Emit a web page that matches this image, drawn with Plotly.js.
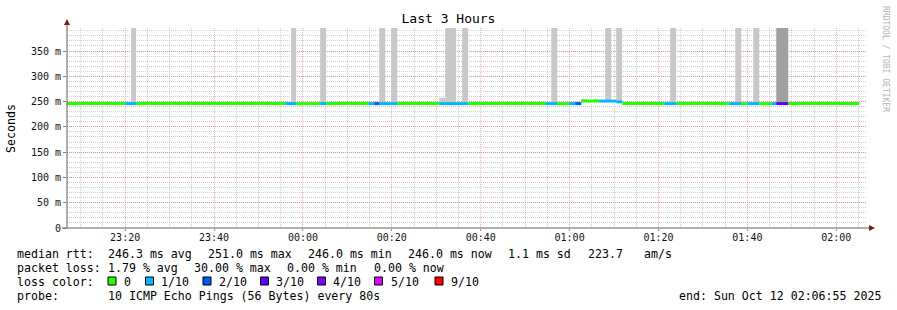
<!DOCTYPE html>
<html><head><meta charset="utf-8">
<script src="https://cdn.plot.ly/plotly-3.0.1.min.js"></script>
<style>html,body{margin:0;padding:0;background:#fff;overflow:hidden}#chart{width:897px;height:310px}</style>
</head><body><div id="chart"></div>
<script>
// ---------------- data ----------------
// median RTT segments (clock time, seconds)
const segStart  = ['23:06:55','23:20:00','23:22:28','23:56:00','23:58:29','00:03:53','00:05:14','00:14:41','00:16:02','00:17:10','00:21:13','00:30:40','00:37:11','00:54:31','00:57:13','00:59:55','01:01:16','01:02:37','01:06:40','01:10:29','01:11:50','01:21:17','01:23:59','01:35:55','01:38:37','01:39:58','01:42:40','01:45:22','01:46:30','01:49:12'];
const segEnd    = ['23:20:00','23:22:28','23:56:00','23:58:29','00:03:53','00:05:14','00:14:41','00:16:02','00:17:10','00:21:13','00:30:40','00:37:11','00:54:31','00:57:13','00:59:55','01:01:16','01:02:37','01:06:40','01:10:29','01:11:50','01:21:17','01:23:59','01:35:55','01:38:37','01:39:58','01:42:40','01:45:22','01:46:30','01:49:12','02:05:11'];
const segMedian = [0.246,0.246,0.246,0.246,0.246,0.246,0.246,0.246,0.246,0.246,0.246,0.246,0.246,0.246,0.246,0.246,0.246,0.251,0.251,0.2495,0.246,0.246,0.246,0.246,0.246,0.246,0.246,0.246,0.246,0.246];
const segLoss   = [0,1,0,1,0,1,0,1,2,1,0,1,0,1,0,1,2,0,1,1,0,1,0,1,0,1,0,1,3,0];

// smoke (spread of the 10 pings)
const smokeStart = ['23:21:21','23:57:21','00:03:53','00:17:10','00:19:51','00:30:40','00:32:01','00:35:50','00:55:52','01:02:37','01:05:13','01:08:01','01:10:29','01:22:38','01:26:28','01:37:16','01:41:19','01:46:30'];
const smokeEnd   = ['23:22:28','23:58:29','00:05:14','00:18:31','00:21:13','00:32:01','00:34:29','00:37:11','00:57:13','01:03:58','01:06:34','01:09:22','01:11:50','01:23:59','01:27:49','01:38:37','01:42:40','01:49:12'];
const smokeLow   = [0.246,0.246,0.246,0.246,0.246,0.246,0.246,0.246,0.246,0.251,0.251,0.251,0.249,0.246,0.246,0.246,0.246,0.246];
const smokeHigh  = [0.400,0.400,0.400,0.400,0.400,0.2576,0.400,0.400,0.400,0.255,0.255,0.400,0.400,0.400,0.2505,0.400,0.400,0.400];
const smokeShade = ['light','light','light','light','light','light','light','light','light','light','light','light','light','light','light','light','light','dark'];

const lossLevels = [0,1,2,3,4,5,9];
const lossLabels = ['0','1/10','2/10','3/10','4/10','5/10','9/10'];
const lossColors = ['#26ff00','#00b8ff','#0059ff','#5e00ff','#7e00ff','#dd00ff','#ff0000'];

const yTickVals = [0,0.05,0.10,0.15,0.20,0.25,0.30,0.35];
const yTickText = ['0','50 m','100 m','150 m','200 m','250 m','300 m','350 m'];
const yMax = 0.3955;
const rangeStart = '23:06:55', rangeEnd = '02:06:55';

const statsRows = [
  [['median rtt:',16],['246.3 ms avg',107],['251.0 ms max',207],['246.0 ms min',307],['246.0 ms now',407],['1.1 ms sd',507],['223.7',586.5],['am/s',642.5]],
  [['packet loss:',16],['1.79 % avg',107],['30.00 % max',193],['0.00 % min',286],['0.00 % now',372.5]],
  [['loss color:',16]],
  [['probe:',16],['10 ICMP Echo Pings (56 Bytes) every 80s',107],['end: Sun Oct 12 02:06:55 2025',678]]
];
const statsRowY = [254,268,282,296];
const lossSwatchX = [108,145.5,203,260.5,317.5,374.5,435];
const lossTextX = [122.5,160,217.5,274.5,332,389.5,450];

// ---------------- helpers ----------------
function toMs(hms){
  const p = hms.split(':').map(Number);
  const base = p[0] >= 12 ? Date.UTC(2025,9,11) : Date.UTC(2025,9,12);
  return base + (p[0]*3600 + p[1]*60 + p[2]) * 1000;
}
const L = 67, T = 28, W = 800, H = 200;
const px = x => (x - L) / W;
const py = y => (T + H - y) / H;
const MONO = 'DejaVu Sans Mono';

// ---------------- traces ----------------
const traces = [];
['light','dark'].forEach(shade => {
  const xs=[], ys=[], bs=[], ws=[];
  smokeStart.forEach((s,i) => {
    if (smokeShade[i] !== shade) return;
    const a = toMs(s), b = toMs(smokeEnd[i]);
    xs.push((a+b)/2); ws.push(b-a); bs.push(smokeLow[i]); ys.push(smokeHigh[i]-smokeLow[i]);
  });
  traces.push({type:'bar', x:xs, y:ys, base:bs, width:ws, cliponaxis:true,
    marker:{color: shade==='light' ? '#c8c8c8' : '#a0a0a0', line:{width:0}},
    hoverinfo:'skip', showlegend:false});
});
lossLevels.forEach((lv, k) => {
  const xs=[], ys=[];
  segStart.forEach((s,i) => {
    if (segLoss[i] !== lv) return;
    xs.push(toMs(s), toMs(segEnd[i]), null);
    ys.push(segMedian[i], segMedian[i], null);
  });
  if (!xs.length) return;
  traces.push({type:'scatter', mode:'lines', x:xs, y:ys, connectgaps:false,
    line:{color:lossColors[k], width:3}, hoverinfo:'skip', showlegend:false});
});

// ---------------- annotations & shapes ----------------
const ann = [];
const shapes = [];
statsRows.forEach((row, r) => row.forEach(([t,x]) => ann.push({
  xref:'paper', yref:'paper', x:px(x), y:py(statsRowY[r]), xanchor:'left', yanchor:'middle',
  text:t.replace(/ /g,'\u00a0'), showarrow:false, borderpad:0,
  font:{family:MONO, size:11.6, color:'#000'}})));
lossLabels.forEach((lab,k) => {
  ann.push({xref:'paper', yref:'paper', x:px(lossTextX[k]), y:py(statsRowY[2]), xanchor:'left', yanchor:'middle',
    text:lab, showarrow:false, borderpad:0, font:{family:MONO, size:11.6, color:'#000'}});
  shapes.push({type:'rect', xref:'paper', yref:'paper', x0:px(lossSwatchX[k]), x1:px(lossSwatchX[k]+8),
    y0:py(285), y1:py(277), fillcolor:lossColors[k], line:{color:'#000', width:1}});
});
ann.push({xref:'paper', yref:'paper', x:px(11), y:0.5, textangle:-90, text:'Seconds', showarrow:false,
  xanchor:'center', yanchor:'middle', font:{family:MONO, size:11.6, color:'#000'}});
ann.push({xref:'paper', yref:'paper', x:px(886), y:py(59), textangle:90, text:'RRDTOOL\u00a0/\u00a0TOBI\u00a0OETIKER', showarrow:false,
  xanchor:'center', yanchor:'middle', font:{family:MONO, size:8, color:'#b4b4b4'}});

// axis lines with arrows
shapes.push({type:'line', xref:'paper', yref:'paper', x0:0, x1:0, y0:0, y1:py(22), line:{color:'#606060', width:1}});
shapes.push({type:'line', xref:'paper', yref:'paper', x0:px(62), x1:px(870), y0:0, y1:0, line:{color:'#606060', width:1}});
shapes.push({type:'path', xref:'paper', yref:'paper',
  path:`M ${px(64)} ${py(25)} L ${px(70)} ${py(25)} L ${px(67)} ${py(19)} Z`, fillcolor:'#801818', line:{width:0}});
shapes.push({type:'path', xref:'paper', yref:'paper',
  path:`M ${px(869)} ${py(225)} L ${px(869)} ${py(231)} L ${px(875)} ${py(228)} Z`, fillcolor:'#801818', line:{width:0}});

const layout = {
  width:897, height:310,
  margin:{l:L, r:897-L-W, t:T, b:310-T-H, pad:0},
  paper_bgcolor:'#fff', plot_bgcolor:'#fff',
  barmode:'overlay', showlegend:false,
  title:{text:'Last 3 Hours', xref:'container', x:0.5, xanchor:'center', yref:'container', y:1-18.5/310, yanchor:'middle',
    font:{family:MONO, size:13, color:'#000'}},
  xaxis:{type:'date', range:[toMs(rangeStart), toMs(rangeEnd)], tick0:toMs('23:20:00'), dtick:20*60000,
    tickformat:'%H:%M', showgrid:true, gridcolor:'rgba(255,70,70,0.45)', griddash:'1px,1px', gridwidth:1,
    ticks:'outside', ticklen:2, tickcolor:'#e08080', showline:false, zeroline:false, ticklabelstandoff:-2,
    tickfont:{family:MONO, size:10, color:'#111'},
    minor:{dtick:5*60000, tick0:toMs('23:20:00'), showgrid:true, gridcolor:'rgba(150,150,150,0.45)', griddash:'1px,1px', ticks:''}},
  yaxis:{range:[0,yMax], tickvals:yTickVals, ticktext:yTickText, showgrid:true,
    gridcolor:'rgba(255,70,70,0.45)', griddash:'1px,1px', ticks:'outside', ticklen:3, tickcolor:'#808080',
    showline:false, zeroline:false, tickfont:{family:MONO, size:10, color:'#111'},
    minor:{dtick:0.01, tick0:0, showgrid:true, gridcolor:'rgba(150,150,150,0.45)', griddash:'1px,1px', ticks:''}},
  annotations:ann, shapes:shapes
};
Plotly.newPlot('chart', traces, layout, {staticPlot:true, displayModeBar:false});
</script></body></html>
